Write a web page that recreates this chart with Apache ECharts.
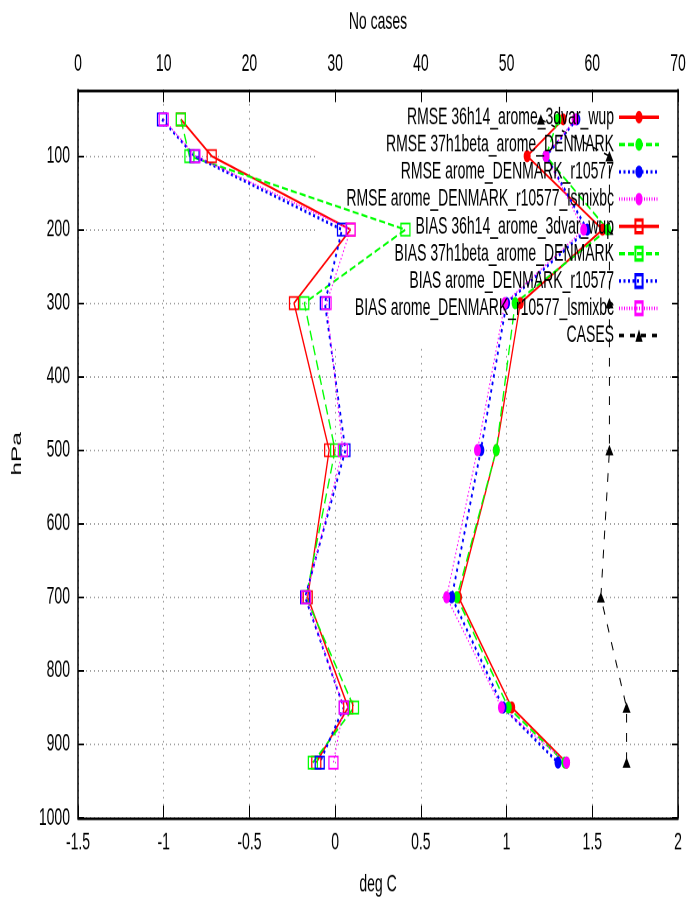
<!DOCTYPE html>
<html>
<head>
<meta charset="utf-8">
<script src="https://cdn.jsdelivr.net/npm/echarts@6/dist/echarts.min.js"></script>
<style>
  html, body { margin: 0; padding: 0; background: #fff; }
  #page { width: 687px; height: 901px; position: relative; }
  /* the plot is laid out on a short canvas and stretched to full height */
  #chart { position: absolute; left: 0; top: 0; width: 687px; height: 515px; transform: scaleY(1.74951); transform-origin: 0 0; }
</style>
</head>
<body>
<div id="page"><div id="chart"></div></div>
<script>
// Pressure levels (hPa)
const levels = [50, 100, 200, 300, 500, 700, 850, 925];
const pressureTicks = [100, 200, 300, 400, 500, 600, 700, 800, 900, 1000];

// RMSE of temperature (deg C)
const rmse36h14 = [1.33, 1.12, 1.56, 1.08, 0.94, 0.72, 1.03, 1.35];
const rmse37h1beta = [1.30, 1.23, 1.59, 1.05, 0.94, 0.71, 1.01, 1.34];
const rmseR10577 = [1.41, 1.23, 1.47, 1.00, 0.85, 0.68, 0.98, 1.30];
const rmseLsmixbc = [1.40, 1.23, 1.45, 0.99, 0.83, 0.65, 0.97, 1.35];

// BIAS of temperature (deg C)
const bias36h14 = [-0.90, -0.72, 0.09, -0.24, -0.035, -0.16, 0.076, -0.11];
const bias37h1beta = [-0.90, -0.85, 0.41, -0.18, 0.0, -0.17, 0.11, -0.13];
const biasR10577 = [-1.01, -0.82, 0.04, -0.06, 0.06, -0.175, 0.05, -0.09];
const biasLsmixbc = [-1.00, -0.815, 0.09, -0.05, 0.045, -0.17, 0.05, -0.01];

// Number of cases per level
const cases = [54, 62, 62, 62, 62, 61, 64, 64];

const FONT = 'Liberation Sans, Arial, sans-serif';
const RED = '#ff0000', GREEN = '#00ff00', BLUE = '#0000ff', MAGENTA = '#ff00ff', BLACK = '#000000';

function toPairs(values) {
  return values.map((v, i) => [v, levels[i]]);
}

function profile(name, values, color, dash, width, marker, xAxisIndex) {
  const s = {
    name: name,
    type: 'line',
    xAxisIndex: xAxisIndex || 0,
    yAxisIndex: 0,
    data: toPairs(values),
    lineStyle: { color: color, width: width, type: dash },
    emphasis: { disabled: true },
    silent: true
  };
  if (marker === 'circle') {
    s.symbol = 'circle';
    s.symbolSize = 7;
    s.itemStyle = { color: color };
  } else if (marker === 'square') {
    s.symbol = 'rect';
    s.symbolSize = [9, 7];
    s.itemStyle = { color: 'rgba(0,0,0,0)', borderColor: color, borderWidth: 1.1 };
  } else {
    s.symbol = 'triangle';
    s.symbolSize = [8, 6];
    s.itemStyle = { color: color };
  }
  return s;
}

const series = [
  profile('RMSE 36h14_arome_3dvar_wup', rmse36h14, RED, 'solid', 1.3, 'circle'),
  profile('RMSE 37h1beta_arome_DENMARK', rmse37h1beta, GREEN, [6, 3], 1.3, 'circle'),
  profile('RMSE arome_DENMARK_r10577', rmseR10577, BLUE, [2, 2.5], 1.8, 'circle'),
  profile('RMSE arome_DENMARK_r10577_lsmixbc', rmseLsmixbc, MAGENTA, [1, 1.5], 1, 'circle'),
  profile('BIAS 36h14_arome_3dvar_wup', bias36h14, RED, 'solid', 1.3, 'square'),
  profile('BIAS 37h1beta_arome_DENMARK', bias37h1beta, GREEN, [6, 3], 1.3, 'square'),
  profile('BIAS arome_DENMARK_r10577', biasR10577, BLUE, [2, 2.5], 1.8, 'square'),
  profile('BIAS arome_DENMARK_r10577_lsmixbc', biasLsmixbc, MAGENTA, [1, 1.5], 1, 'square'),
  profile('CASES', cases, BLACK, [5, 6], 1, 'triangle', 1)
];
series[8].z = 1;

const gridDots = { show: true, lineStyle: { color: '#a0a0a0', width: 1, type: [1, 3] } };
const tickLabel = { color: '#000', fontFamily: FONT, fontSize: 14, formatter: v => String(v) };

const option = {
  animation: false,
  backgroundColor: '#fff',
  textStyle: { fontFamily: FONT },
  grid: { left: 78, right: 9, top: 51.4, bottom: 47.6, containLabel: false, outerBoundsMode: 'none' },
  legend: {
    orient: 'vertical',
    align: 'right',
    right: 22,
    top: 55,
    itemWidth: 40,
    itemHeight: 9,
    itemGap: 1.6,
    selectedMode: false,
    padding: 5,
    textStyle: { color: '#000', fontFamily: FONT, fontSize: 14, lineHeight: 14 },
    data: series.map(s => s.name)
  },
  graphic: {
    elements: [{
      // keep the grid clear behind the key
      type: 'rect',
      left: 318,
      top: 52.5,
      shape: { width: 358, height: 146 },
      style: { fill: '#ffffff' },
      z: 1,
      silent: true
    }]
  },
  xAxis: [
    {
      type: 'value',
      position: 'bottom',
      min: -1.5, max: 2, interval: 0.5,
      name: 'deg C',
      nameLocation: 'middle',
      nameGap: 31,
      nameTextStyle: { color: '#000', fontFamily: FONT, fontSize: 14 },
      axisLine: { show: true, onZero: false, lineStyle: { color: '#000', width: 1.5 } },
      axisTick: { show: true, inside: true, length: 7, lineStyle: { color: '#000', width: 1 } },
      axisLabel: Object.assign({ margin: 7 }, tickLabel),
      splitLine: gridDots
    },
    {
      type: 'value',
      position: 'top',
      min: 0, max: 70, interval: 10,
      z: 3,
      name: 'No cases',
      nameLocation: 'middle',
      nameGap: 32,
      nameTextStyle: { color: '#000', fontFamily: FONT, fontSize: 14 },
      axisLine: { show: true, onZero: false, lineStyle: { color: '#000', width: 1.5 } },
      axisTick: { show: true, inside: true, length: 7, lineStyle: { color: '#000', width: 1 } },
      axisLabel: Object.assign({ margin: 8 }, tickLabel),
      splitLine: { show: false }
    }
  ],
  yAxis: [
    {
      type: 'value',
      position: 'left',
      inverse: true,
      min: 10, max: 1000,
      name: 'hPa',
      nameLocation: 'middle',
      nameRotate: 90,
      nameGap: 54,
      nameTextStyle: { color: '#000', fontFamily: FONT, fontSize: 14 },
      axisLine: { show: true, onZero: false, lineStyle: { color: '#000', width: 1.5 } },
      axisTick: { show: true, inside: true, length: 6, customValues: pressureTicks, lineStyle: { color: '#000', width: 1 } },
      axisLabel: Object.assign({ margin: 8, customValues: pressureTicks }, tickLabel),
      splitLine: gridDots
    },
    {
      type: 'value',
      position: 'right',
      inverse: true,
      min: 10, max: 1000,
      z: 3,
      axisLine: { show: true, onZero: false, lineStyle: { color: '#000', width: 1.5 } },
      axisTick: { show: true, inside: true, length: 6, customValues: pressureTicks, lineStyle: { color: '#000', width: 1 } },
      axisLabel: { show: false },
      splitLine: { show: false }
    }
  ],
  series: series
};

const chart = echarts.init(document.getElementById('chart'), null, { renderer: 'canvas', devicePixelRatio: 2 });
chart.setOption(option);
</script>
</body>
</html>
